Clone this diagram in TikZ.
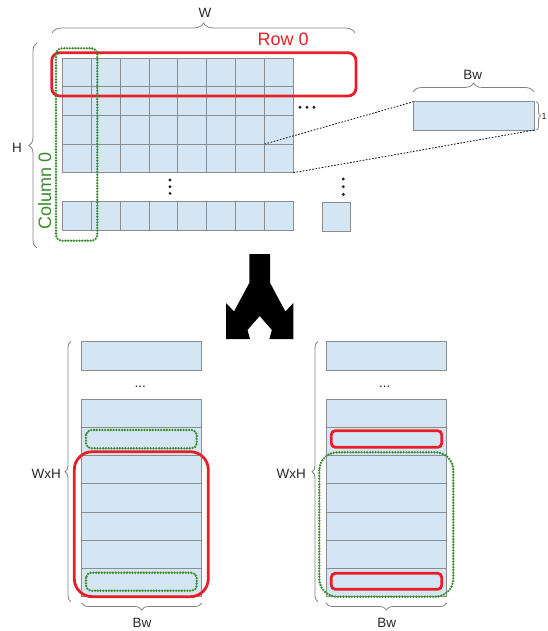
\documentclass[tikz,border=0pt]{standalone}
\usepackage{fontspec}
\setmainfont{Liberation Sans}
\usetikzlibrary{decorations.pathreplacing}

\definecolor{cellblue}{RGB}{212,230,244}
\definecolor{cellgray}{RGB}{140,140,140}
\definecolor{hlred}{RGB}{232,30,40}
\definecolor{hlgreen}{RGB}{58,140,44}
\definecolor{bracegray}{RGB}{130,130,130}
\definecolor{dotnavy}{RGB}{30,30,60}
\definecolor{labelgray}{RGB}{40,40,40}

\begin{document}
\begin{tikzpicture}[x=1pt,y=-1pt,
  cell/.style={draw=cellgray, fill=cellblue, line width=0.9pt, inner sep=0pt,
    outer sep=0pt, minimum width=28.85pt, minimum height=28.6pt},
  stackcell/.style={cell, minimum width=120pt, minimum height=28.2pt},
  redframe/.style={draw=hlred, line width=2.8pt, rounded corners=#1},
  greenframe/.style={draw=hlgreen, line width=2.6pt, line cap=round,
    dash pattern=on 0pt off 2.8pt, rounded corners=#1},
  bracedeco/.style={draw=bracegray, line width=0.8pt,
    decorate, decoration={brace, amplitude=#1}},
  zoomline/.style={draw=black, line width=0.8pt, dash pattern=on 1.6pt off 1.6pt},
  smalllabel/.style={text=labelgray, font=\fontsize{13.5}{15}\selectfont, inner sep=0pt},
  biglabel/.style={font=\fontsize{18}{20}\selectfont, inner sep=0pt},
  dotmark/.style={fill=dotnavy}
]
\useasboundingbox (0,0) rectangle (548,631);

% ---------- the W x H grid of blocks ----------
\foreach \r in {0,...,3}
  \foreach \c in {0,...,7}
    \node[cell] (g\r\c) at ({62.5+28.85*(\c+0.5)}, {58.3+28.6*(\r+0.5)}) {};
\foreach \c in {0,...,7}
  \node[cell, minimum height=29pt] (gb\c) at ({62.5+28.85*(\c+0.5)}, 216.2) {};
\node[cell, minimum width=28.7pt, minimum height=29.7pt] (lone) at (336.4,216.9) {};

% ellipsis marks
\foreach \x in {300,307,314} \fill[dotmark] (\x,107.3) circle (1.6);
\foreach \y in {180,186.7,193.4} \fill[dotmark] (170,\y) circle (1.6);
\foreach \y in {179,186.7,194.4} \fill[dotmark] (343.3,\y) circle (1.6);

% one block enlarged
\node[cell, minimum width=120.7pt, minimum height=28.3pt] (zoomblk) at (473.7,115.9) {};
\draw[zoomline] (g37.north west) -- (zoomblk.north west);
\draw[zoomline] (g37.south east) -- (zoomblk.south east);

% braces and dimensions
\draw[bracedeco=10pt] (52,33) -- (355,33);
\node[smalllabel] (wlab) at (205,13) {W};
\draw[bracedeco=8pt] (37,248) -- (37,43);
\node[smalllabel] (hlab) at (17,148) {H};
\draw[bracedeco=9pt] (413,92) -- (534,92);
\node[smalllabel] (bwtop) at (472.7,75.3) {Bw};
\draw[bracedeco=4pt] (536.5,101.7) -- (536.5,130);
\node[smalllabel, anchor=west, font=\fontsize{9}{10}\selectfont] (onelab) at (541.5,116) {1};

% row and column highlights
\draw[redframe=8pt] (51.7,52.7) rectangle (356,96);
\node[biglabel, text=hlred] (rowlab) at (283.2,39.5) {Row 0};
\draw[greenframe=6pt] (56,48.3) rectangle (97.3,240.7);
\node[biglabel, text=hlgreen, rotate=90] (collab) at (44.7,191) {Column 0};

% ---------- split arrow ----------
\fill[black] (249.3,254) -- (249.3,283) -- (234,311.5) -- (226,303) -- (226,339)
  -- (250,339) -- (247.5,330) -- (259.7,316) -- (271.9,330) -- (269.4,339)
  -- (293.4,339) -- (293.4,303) -- (285.4,311.5) -- (270.1,283) -- (270.1,254) -- cycle;

% ---------- two linear layouts ----------
\foreach \s/\cx in {L/141.7, R/386.35} {
  \node[stackcell, minimum height=29pt] (\s top) at (\cx,355.5) {};
  \node[smalllabel, text=dotnavy] (\s dots) at (\cx-1.5,386.5) {...};
  \foreach \k in {0,...,6}
    \node[stackcell] (\s\k) at (\cx, {399.3+28.2*(\k+0.5)}) {};
}

% left layout: row-major order
\draw[greenframe=5pt] (86,430) rectangle (196.7,448.3);
\draw[greenframe=5pt] (86,572.7) rectangle (196.7,590.7);
\draw[redframe=18pt] (74.3,451.7) rectangle (208.3,596.7);
\draw[bracedeco=6pt] (71,601.7) -- (71,341.7);
\node[smalllabel, anchor=east] (wxhL) at (61,474) {WxH};
\draw[bracedeco=7pt] (201.7,603) -- (81.7,603);
\node[smalllabel] (bwL) at (142,623) {Bw};

% right layout: column-major order
\draw[redframe=4pt] (331.3,430.7) rectangle (441.7,447.3);
\draw[redframe=4pt] (331.3,573.3) rectangle (441.7,589.3);
\draw[greenframe=18pt] (319.3,452.3) rectangle (453.3,596.7);
\draw[bracedeco=6pt] (318,601.7) -- (318,341.7);
\node[smalllabel, anchor=east] (wxhR) at (306,474) {WxH};
\draw[bracedeco=7pt] (446.7,603) -- (326,603);
\node[smalllabel] (bwR) at (386.7,623) {Bw};
\end{tikzpicture}
\end{document}
